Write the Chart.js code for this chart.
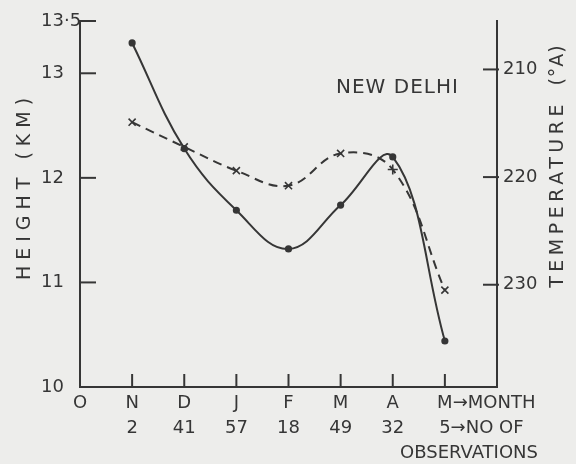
<!DOCTYPE html>
<html>
<head>
<meta charset="utf-8">
<script src="https://cdn.jsdelivr.net/npm/chart.js@4"></script>
<style>
  html, body { margin: 0; padding: 0; background: #ededeb; }
  #c { display: block; }
</style>
</head>
<body>
<canvas id="c" width="576" height="464"></canvas>
<script>
// ---- data ----
const monthLabels = ['O', 'N', 'D', 'J', 'F', 'M', 'A', 'M'];
const obsCounts = ['', '2', '41', '57', '18', '49', '32', '5'];
const monthPositions = [1, 2, 3, 4, 5, 6, 7];
const heightKm = [13.29, 12.28, 11.69, 11.32, 11.74, 12.20, 10.44];
const temperatureA = [214.9, 217.2, 219.4, 220.8, 217.8, 219.3, 230.5];
const heightTicks = [10, 11, 12, 13, 13.5];
const heightTickLabels = ['10', '11', '12', '13', '13·5'];
const tempTicks = [210, 220, 230];
const tempTickLabels = ['210', '220', '230'];
const tempPointStyles = ['crossRot', 'crossRot', 'crossRot', 'crossRot', 'crossRot', 'cross', 'crossRot'];

const INK = '#363636';
const FONT = "18px 'DejaVu Sans', sans-serif";

const bgPlugin = {
  id: 'bg',
  beforeDraw(chart) {
    const ctx = chart.ctx;
    ctx.save();
    ctx.fillStyle = '#ededeb';
    ctx.fillRect(0, 0, chart.width, chart.height);
    ctx.restore();
  }
};

const annot = {
  id: 'annot',
  afterDraw(chart) {
    const ctx = chart.ctx;
    const xs = chart.scales.x, ys = chart.scales.y, y2 = chart.scales.y2;
    const ca = chart.chartArea;
    ctx.save();
    ctx.strokeStyle = INK;
    ctx.fillStyle = INK;
    ctx.lineWidth = 2;
    ctx.font = FONT;
    ctx.textBaseline = 'middle';

    // left ticks (inward) and labels
    heightTicks.forEach((v, i) => {
      const py = ys.getPixelForValue(v);
      if (v !== ys.min) {
        ctx.beginPath(); ctx.moveTo(ca.left, py); ctx.lineTo(ca.left + 16, py); ctx.stroke();
      }
      ctx.textAlign = 'left';
      ctx.fillText(heightTickLabels[i], 41, py);
    });

    // right ticks and labels
    tempTicks.forEach((v, i) => {
      const py = y2.getPixelForValue(v);
      ctx.beginPath(); ctx.moveTo(ca.right - 14, py); ctx.lineTo(ca.right + 2, py); ctx.stroke();
      ctx.textAlign = 'left';
      ctx.fillText(tempTickLabels[i], ca.right + 6, py);
    });

    // bottom ticks and labels
    monthLabels.forEach((m, i) => {
      const px = xs.getPixelForValue(i);
      if (i > 0) {
        ctx.beginPath(); ctx.moveTo(px, ca.bottom); ctx.lineTo(px, ca.bottom - 13); ctx.stroke();
      }
      if (i < monthLabels.length - 1) {
        ctx.textAlign = 'center';
        ctx.fillText(m, px, 403);
        if (obsCounts[i]) ctx.fillText(obsCounts[i], px, 428);
      } else {
        ctx.textAlign = 'left';
        const hm = ctx.measureText(m).width / 2;
        const hc = ctx.measureText(obsCounts[i]).width / 2;
        ctx.fillText(m + '→MONTH', px - hm, 403);
        ctx.fillText(obsCounts[i] + '→NO OF', px - hc, 428);
        ctx.textAlign = 'center';
        ctx.fillText('OBSERVATIONS', 469, 453);
      }
    });

    // station name
    ctx.textAlign = 'left';
    ctx.font = "20px 'DejaVu Sans', sans-serif";
    ctx.letterSpacing = '1px';
    ctx.fillText('NEW DELHI', 336, 88);

    // axis titles
    ctx.font = "19px 'DejaVu Sans', sans-serif";
    ctx.letterSpacing = '6px';
    ctx.save();
    ctx.translate(25, 189);
    ctx.rotate(-Math.PI / 2);
    ctx.textAlign = 'center';
    ctx.fillText('HEIGHT (KM)', 3, 0);
    ctx.restore();

    ctx.save();
    ctx.translate(558, 168);
    ctx.rotate(-Math.PI / 2);
    ctx.textAlign = 'left';
    ctx.letterSpacing = '4.5px';
    const main = 'TEMPERATURE ';
    const unit = '(°A)';
    const wMain = ctx.measureText(main).width;
    ctx.letterSpacing = '1px';
    const wUnit = ctx.measureText(unit).width;
    const start = -(wMain + wUnit) / 2;
    ctx.letterSpacing = '4.5px';
    ctx.fillText(main, start, 0);
    ctx.letterSpacing = '1px';
    ctx.fillText(unit, start + wMain + 4, 0);
    ctx.restore();

    ctx.restore();
  }
};

const axisCommon = {
  display: true,
  grid: { display: false, drawTicks: false },
  ticks: { display: false },
  border: { display: true, color: INK, width: 2 }
};

new Chart(document.getElementById('c'), {
  type: 'line',
  data: {
    datasets: [
      {
        label: 'Height (km)',
        data: monthPositions.map((x, i) => ({ x, y: heightKm[i] })),
        yAxisID: 'y',
        borderColor: INK,
        backgroundColor: INK,
        borderWidth: 2,
        tension: 0.4,
        pointRadius: 2.6,
        pointStyle: 'circle',
        fill: false
      },
      {
        label: 'Temperature (°A)',
        data: monthPositions.map((x, i) => ({ x, y: temperatureA[i] })),
        yAxisID: 'y2',
        borderColor: INK,
        backgroundColor: INK,
        borderWidth: 2,
        borderDash: [9, 6],
        tension: 0.4,
        pointRadius: 5,
        pointBorderWidth: 1.6,
        pointStyle: tempPointStyles,
        fill: false
      }
    ]
  },
  options: {
    responsive: false,
    animation: false,
    layout: { padding: { left: 80, right: 79, top: 21, bottom: 77 } },
    plugins: { legend: { display: false }, tooltip: { enabled: false } },
    scales: {
      x: Object.assign({}, axisCommon, { type: 'linear', min: 0, max: 8,
        afterFit: s => { s.height = 0; } }),
      y: Object.assign({}, axisCommon, { position: 'left', min: 10, max: 13.5,
        afterFit: s => { s.width = 0; } }),
      y2: Object.assign({}, axisCommon, { position: 'right', min: 205.5, max: 239.5, reverse: true,
        afterFit: s => { s.width = 0; } })
    }
  },
  plugins: [bgPlugin, annot]
});
</script>
</body>
</html>
